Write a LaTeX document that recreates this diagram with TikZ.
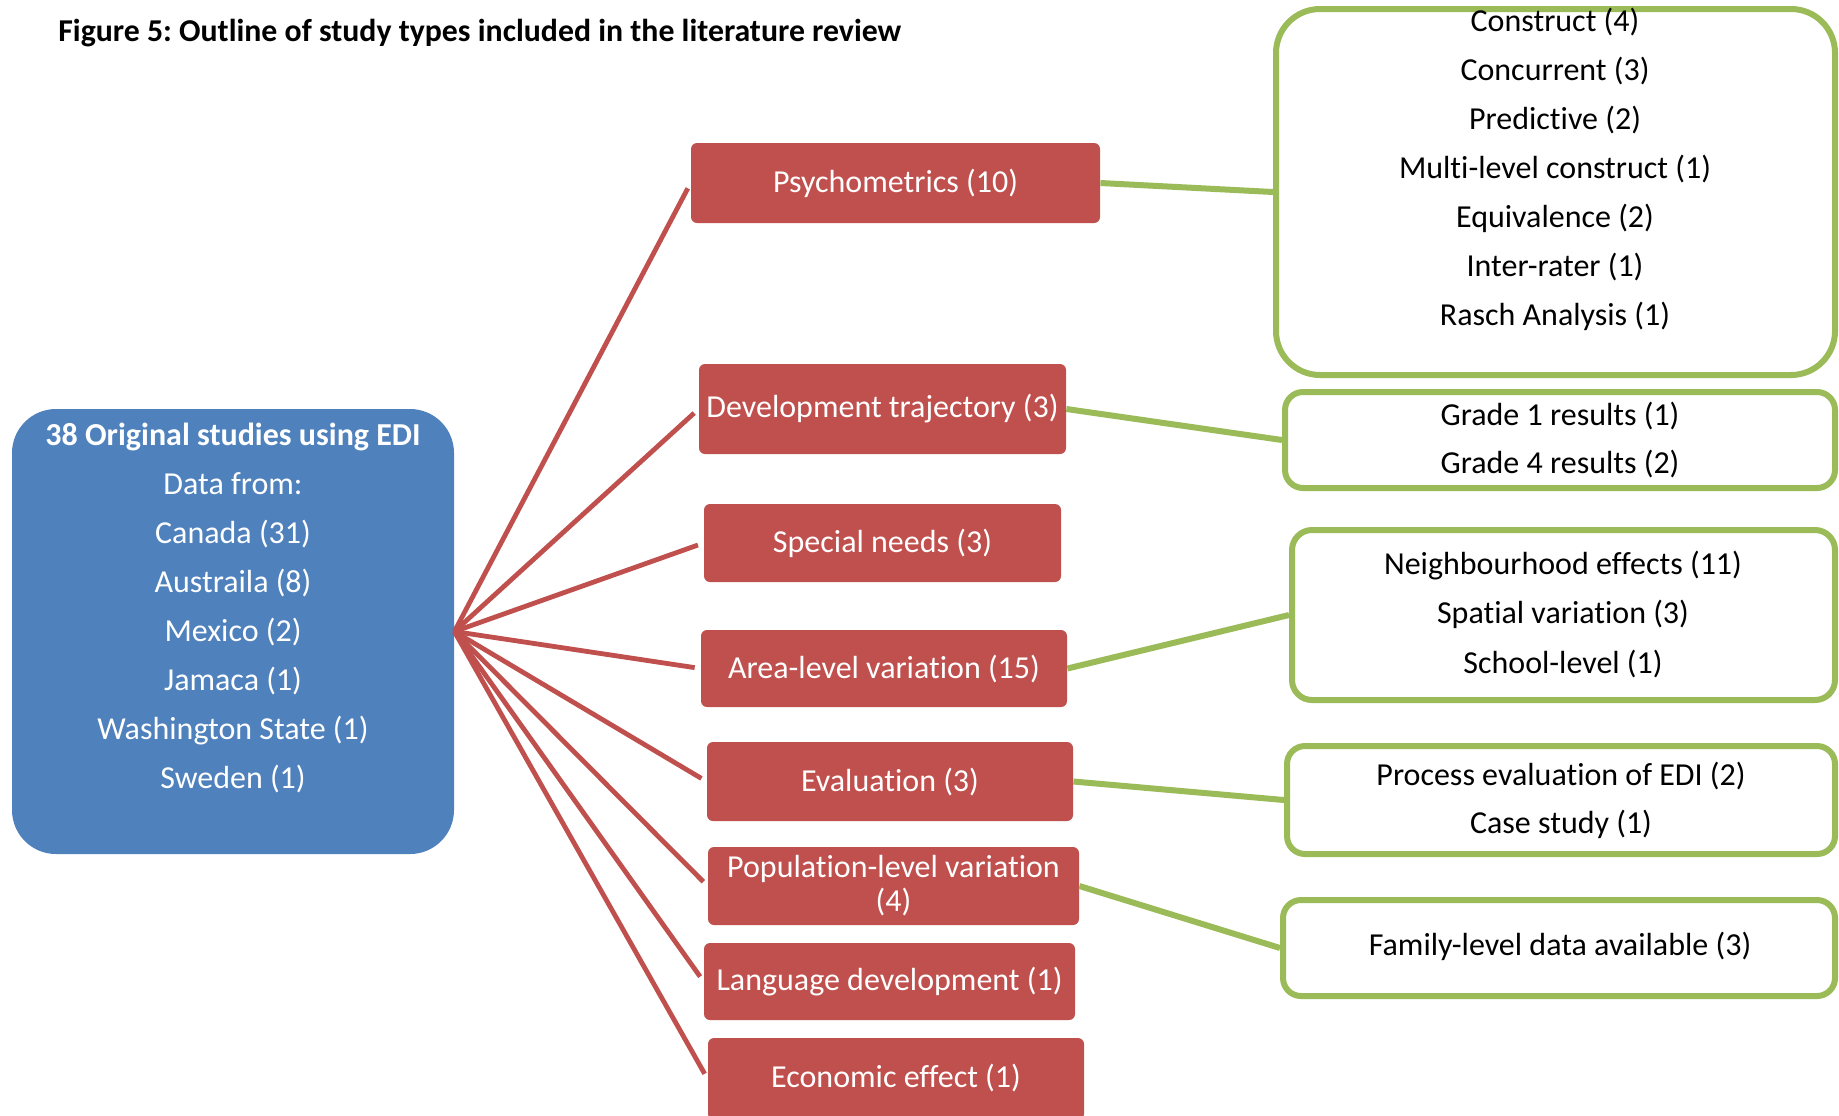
\documentclass[tikz,border=0pt]{standalone}
\usepackage{fontspec}
\setmainfont{Carlito}[Ligatures={NoCommon}]
\frenchspacing
\definecolor{edired}{HTML}{C0504D}
\definecolor{ediblue}{HTML}{4F81BD}
\definecolor{edigreen}{HTML}{9BBB59}
\tikzset{
  body/.style={font=\fontsize{16}{17}\selectfont},
  redbox/.style={body, fill=edired, text=white, rounded corners=3pt, inner sep=0pt, align=center},
  greenbox/.style={draw=edigreen, line width=3pt, fill=white, inner sep=0pt},
  bluebox/.style={fill=ediblue, rounded corners=22pt, inner sep=0pt},
  redline/.style={draw=edired, line width=2.4pt, shorten >=3pt},
  greenline/.style={draw=edigreen, line width=3pt},
  whiteline/.style={body, text=white, anchor=base, inner sep=0pt},
  blackline/.style={body, text=black, anchor=base, inner sep=0pt},
}
\begin{document}
\begin{tikzpicture}[x=0.5pt, y=-0.5pt]
\useasboundingbox (0,0) rectangle (1839,1115);
\fill[white] (0,0) rectangle (1839,1115);

% heading
\node[anchor=base west, inner sep=0pt, font=\fontsize{15.9}{17}\selectfont\bfseries] (title) at (58,41)
  {Figure 5: Outline of study types included in the literature review};

% source box
\node[bluebox, minimum width=221pt, minimum height=222.5pt] (edi) at (233,631.5) {};
\node[whiteline, font=\fontsize{16}{17}\selectfont\bfseries] (edi-1) at (233,445) {38 Original studies using EDI};
\foreach \t [count=\i] in {{Data from:},{Canada (31)},{Austraila (8)},{Mexico (2)},{Jamaca (1)},{Washington State (1)},{Sweden (1)}}
  \node[whiteline] (edi-l\i) at (233,{494+49*(\i-1)}) {\t};

% study types
\node[redbox, minimum width=204.5pt, minimum height=40pt] (psy) at (895.5,183) {Psychometrics (10)};
\node[redbox, minimum width=183.5pt, minimum height=45pt] (dev) at (882.5,409) {Development trajectory (3)};
\node[redbox, minimum width=178.5pt, minimum height=39pt] (spn) at (882.5,543) {Special needs (3)};
\node[redbox, minimum width=183pt, minimum height=38.5pt] (area) at (884,668.5) {Area-level variation (15)};
\node[redbox, minimum width=183pt, minimum height=39.5pt] (eval) at (890,781.5) {Evaluation (3)};
\node[redbox, minimum width=185.5pt, minimum height=39pt] (pop) at (893.5,886) {Population-level variation\\(4)};
\node[redbox, minimum width=185.5pt, minimum height=38.5pt] (lang) at (889.5,981.5) {Language development (1)};
\node[redbox, minimum width=188pt, minimum height=41pt, text depth=3.5pt] (econ) at (896,1079) {Economic effect (1)};

% sub-categories
\node[greenbox, rounded corners=22pt, minimum width=279.5pt, minimum height=183pt] (g1) at (1555.5,192) {};
\node[greenbox, rounded corners=9pt, minimum width=275pt, minimum height=48pt] (g2) at (1560,440) {};
\node[greenbox, rounded corners=10pt, minimum width=271.5pt, minimum height=85pt] (g3) at (1563.5,615) {};
\node[greenbox, rounded corners=9pt, minimum width=274pt, minimum height=54pt] (g4) at (1561,800) {};
\node[greenbox, rounded corners=9pt, minimum width=276pt, minimum height=48pt] (g5) at (1559,948) {};

\foreach \t [count=\i] in {{Construct (4)},{Concurrent (3)},{Predictive (2)},{Multi-level construct (1)},{Equivalence (2)},{Inter-rater (1)},{Rasch Analysis (1)}}
  \node[blackline] (g1-\i) at (1555,{31+49*(\i-1)}) {\t};
\foreach \t [count=\i] in {{Grade 1 results (1)},{Grade 4 results (2)}}
  \node[blackline] (g2-\i) at (1560,{425+48*(\i-1)}) {\t};
\foreach \t [count=\i] in {{Neighbourhood effects (11)},{Spatial variation (3)},{School-level (1)}}
  \node[blackline] (g3-\i) at (1563,{574+49.5*(\i-1)}) {\t};
\foreach \t [count=\i] in {{Process evaluation of EDI (2)},{Case study (1)}}
  \node[blackline] (g4-\i) at (1561,{785+48*(\i-1)}) {\t};
\node[blackline] (g5-1) at (1560,955) {Family-level data available (3)};

% connectors
\foreach \n in {psy,dev,spn,area,eval,pop,lang,econ}
  \draw[redline] (edi.east) -- (\n.west);
\draw[greenline] (psy.east) -- (g1.west);
\draw[greenline] (dev.east) -- (g2.west);
\draw[greenline] (area.east) -- (g3.west);
\draw[greenline] (eval.east) -- (g4.west);
\draw[greenline] (pop.east) -- (g5.west);
\end{tikzpicture}
\end{document}
